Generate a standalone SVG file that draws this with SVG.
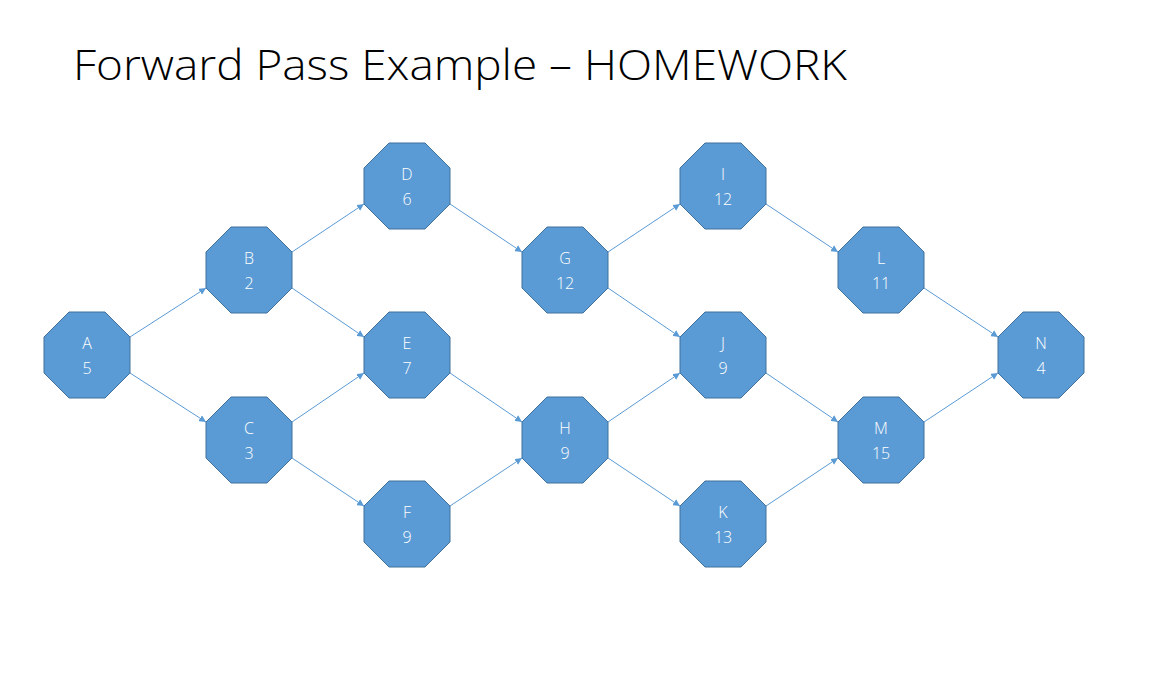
<svg xmlns="http://www.w3.org/2000/svg" width="1154" height="674" viewBox="0 0 1154 674">
<defs>
<polygon id="oct" points="-18,-43 18,-43 43,-18 43,18 18,43 -18,43 -43,18 -43,-18"/>
<marker id="ar" viewBox="0 0 10 10" refX="10" refY="5" markerWidth="7" markerHeight="7" orient="auto" markerUnits="userSpaceOnUse"><path d="M0,0 L10,5 L0,10 z" fill="#5b9bd5"/></marker>
</defs>
<style>
.n use{fill:#5b9bd5;stroke:#41719c;stroke-width:1}
.n text{font-family:"Open Sans","Liberation Sans",sans-serif;font-weight:300;font-size:16px;fill:#fff;text-anchor:middle}
#edges line{stroke:#5b9bd5;stroke-width:1;marker-end:url(#ar)}
.t{font-family:"Open Sans","Liberation Sans",sans-serif;font-weight:300;font-size:42px;fill:#000}
</style>
<rect width="1154" height="674" fill="#fff"/>
<text class="t" x="73" y="80" textLength="774" lengthAdjust="spacingAndGlyphs">Forward Pass Example – HOMEWORK</text>
<g id="edges">
<line x1="130" y1="337" x2="206" y2="288"/>
<line x1="130" y1="373" x2="206" y2="422"/>
<line x1="292" y1="252" x2="364" y2="204"/>
<line x1="292" y1="288" x2="364" y2="337"/>
<line x1="292" y1="422" x2="364" y2="373"/>
<line x1="292" y1="458" x2="364" y2="506"/>
<line x1="450" y1="204" x2="522" y2="252"/>
<line x1="450" y1="373" x2="522" y2="422"/>
<line x1="450" y1="506" x2="522" y2="458"/>
<line x1="608" y1="252" x2="680" y2="204"/>
<line x1="608" y1="288" x2="680" y2="337"/>
<line x1="608" y1="422" x2="680" y2="373"/>
<line x1="608" y1="458" x2="680" y2="506"/>
<line x1="766" y1="204" x2="838" y2="252"/>
<line x1="766" y1="373" x2="838" y2="422"/>
<line x1="766" y1="506" x2="838" y2="458"/>
<line x1="924" y1="288" x2="998" y2="337"/>
<line x1="924" y1="422" x2="998" y2="373"/>
</g>
<g id="A" class="n" transform="translate(87,355)"><use href="#oct"/><text y="-6">A</text><text y="19">5</text></g>
<g id="B" class="n" transform="translate(249,270)"><use href="#oct"/><text y="-6">B</text><text y="19">2</text></g>
<g id="C" class="n" transform="translate(249,440)"><use href="#oct"/><text y="-6">C</text><text y="19">3</text></g>
<g id="D" class="n" transform="translate(407,186)"><use href="#oct"/><text y="-6">D</text><text y="19">6</text></g>
<g id="E" class="n" transform="translate(407,355)"><use href="#oct"/><text y="-6">E</text><text y="19">7</text></g>
<g id="F" class="n" transform="translate(407,524)"><use href="#oct"/><text y="-6">F</text><text y="19">9</text></g>
<g id="G" class="n" transform="translate(565,270)"><use href="#oct"/><text y="-6">G</text><text y="19">12</text></g>
<g id="H" class="n" transform="translate(565,440)"><use href="#oct"/><text y="-6">H</text><text y="19">9</text></g>
<g id="I" class="n" transform="translate(723,186)"><use href="#oct"/><text y="-6">I</text><text y="19">12</text></g>
<g id="J" class="n" transform="translate(723,355)"><use href="#oct"/><text y="-6">J</text><text y="19">9</text></g>
<g id="K" class="n" transform="translate(723,524)"><use href="#oct"/><text y="-6">K</text><text y="19">13</text></g>
<g id="L" class="n" transform="translate(881,270)"><use href="#oct"/><text y="-6">L</text><text y="19">11</text></g>
<g id="M" class="n" transform="translate(881,440)"><use href="#oct"/><text y="-6">M</text><text y="19">15</text></g>
<g id="N" class="n" transform="translate(1041,355)"><use href="#oct"/><text y="-6">N</text><text y="19">4</text></g>
</svg>
